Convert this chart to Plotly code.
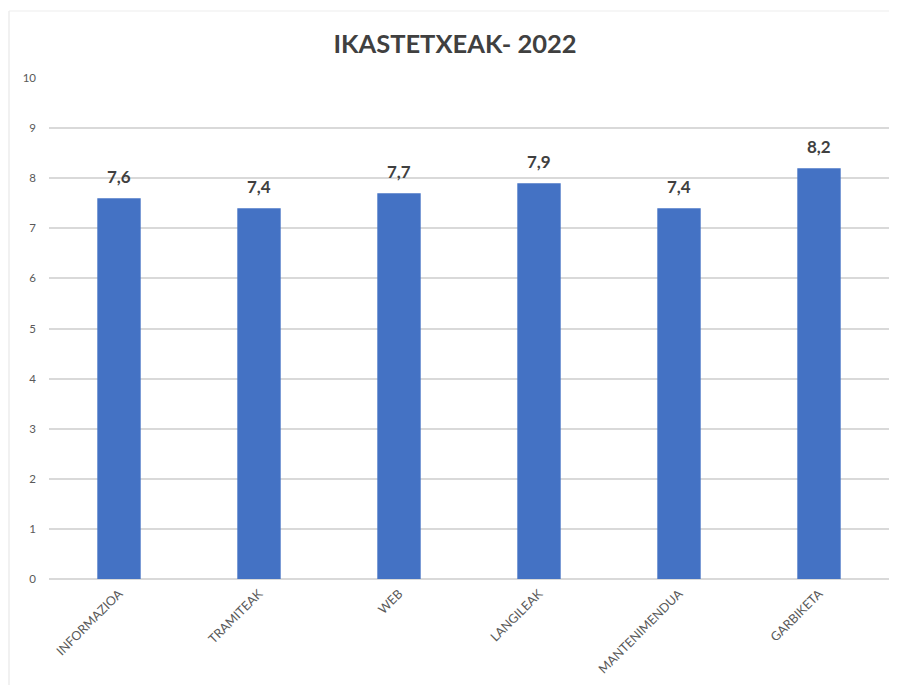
import plotly.graph_objects as go

categories = ['INFORMAZIOA', 'TRAMITEAK', 'WEB', 'LANGILEAK', 'MANTENIMENDUA', 'GARBIKETA']
scores = [7.6, 7.4, 7.7, 7.9, 7.4, 8.2]
score_labels = ['7,6', '7,4', '7,7', '7,9', '7,4', '8,2']

bar_color = '#4472C4'
grid_color = '#D9D9D9'
text_color = '#404040'
tick_color = '#595959'

fig = go.Figure()
fig.add_trace(go.Bar(
    x=categories,
    y=scores,
    marker=dict(color=bar_color, line=dict(width=0)),
    width=0.31,
))

# value labels sit a bit higher above the bars than plotly's 'outside' text
for cat, val, lab in zip(categories, scores, score_labels):
    fig.add_annotation(
        x=cat, y=val, text='<b>' + lab + '</b>',
        showarrow=False, yanchor='bottom', yshift=9,
        font=dict(family='Lato', size=17, color=text_color),
    )

# page body has an 8px margin, so offsets below are shifted by it
fig.update_layout(
    width=897, height=685,
    margin=dict(l=41, r=16, t=70, b=114),
    paper_bgcolor='white',
    plot_bgcolor='white',
    showlegend=False,
    title=dict(
        text='<b>IKASTETXEAK- 2022</b>',
        x=447 / 897, xanchor='center',
        y=1 - 36 / 685, yanchor='middle',
        font=dict(family='Lato', size=25.5, color=text_color),
    ),
    font=dict(family='Lato', color=tick_color),
)

fig.update_xaxes(
    tickangle=-45,
    tickfont=dict(size=12.5, color=tick_color),
    showline=False,
    showgrid=False,
    ticks='',
    ticklabelstandoff=4,
)
fig.update_yaxes(
    range=[0, 10],
    dtick=1,
    showgrid=True,
    gridcolor=grid_color,
    gridwidth=1.5,
    zeroline=True,
    zerolinecolor=grid_color,
    zerolinewidth=1.5,
    tickfont=dict(size=11.5, color=tick_color),
    ticklabelstandoff=12,
    fixedrange=True,
)

fig.add_shape(type='line', xref='paper', yref='paper',
              x0=-40 / 840, x1=-40 / 840, y0=-114 / 501, y1=1 + 67 / 501,
              line=dict(color='#E3E3E3', width=1))
fig.add_shape(type='line', xref='paper', yref='paper',
              x0=-40 / 840, x1=1 + 16 / 840, y0=1 + 67 / 501, y1=1 + 67 / 501,
              line=dict(color='#EDEDED', width=1))

fig.write_html('out.html')
